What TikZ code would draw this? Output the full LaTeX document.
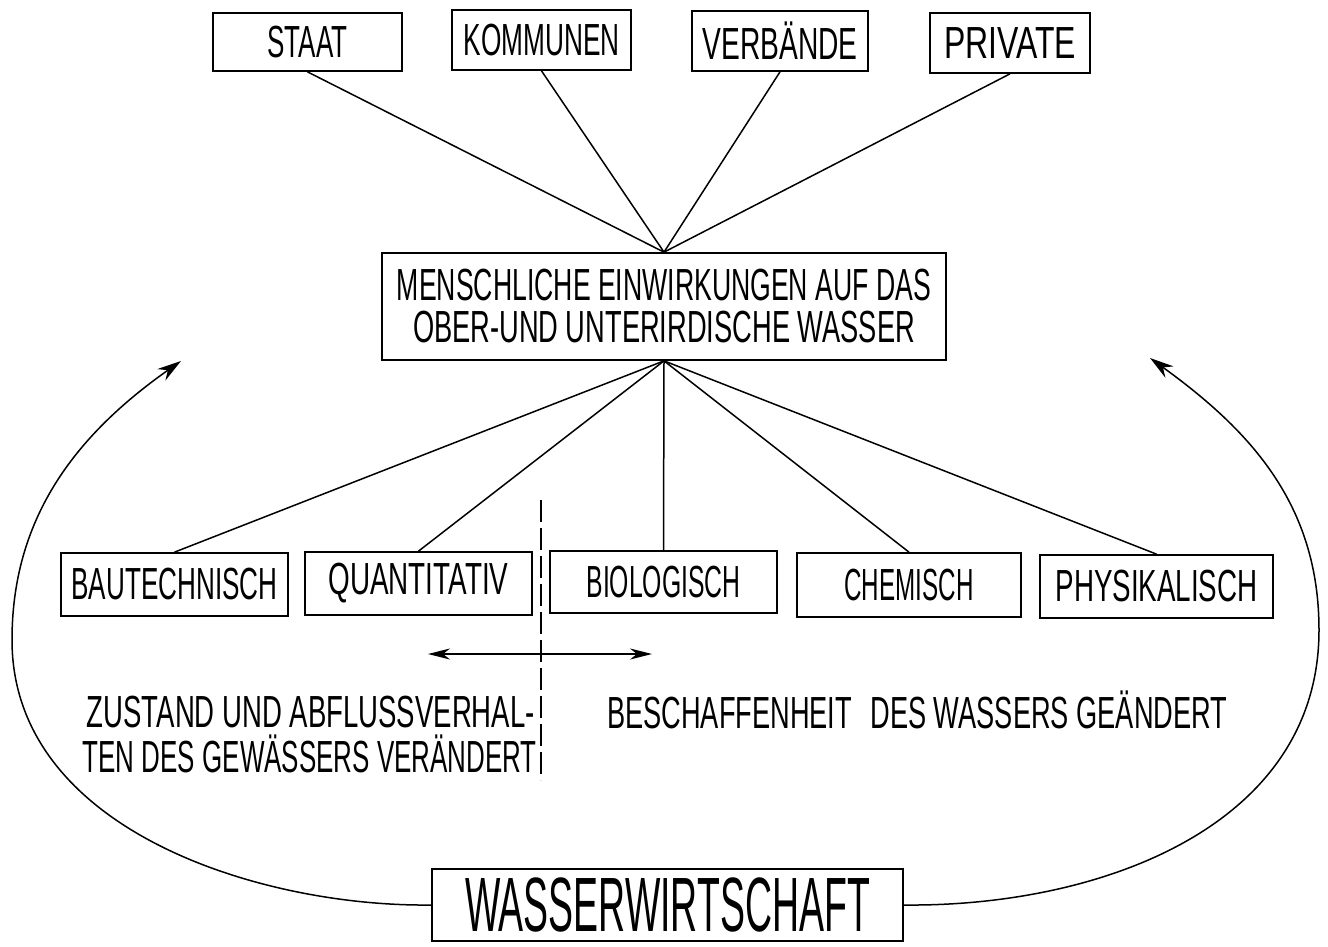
\documentclass[tikz,border=0pt]{standalone}
\usepackage{fontspec}
\setmainfont{Liberation Sans}
\usepackage{graphicx}
\usetikzlibrary{arrows.meta}
\newcommand{\tx}[3]{\resizebox{#1pt}{\height}{\fontsize{#2}{#2}\selectfont #3}}
\begin{document}
\begin{tikzpicture}[x=1pt,y=-1pt,
  box/.style={draw,line width=1.7pt,inner sep=0pt,align=center},
  conn/.style={line width=1.5pt},
  lbl/.style={inner sep=0pt},
  bigtip/.style={-{Stealth[length=24pt,width=14pt,inset=8pt]}},
  dbltip/.style={{Stealth[length=22pt,width=11pt,inset=7pt]}-{Stealth[length=22pt,width=11pt,inset=7pt]}}]
\useasboundingbox (0,0) rectangle (1328,947);
% top row
\node[box,minimum width=189pt,minimum height=58pt] (staat) at (307.5,42) {\tx{80}{45}{STAAT}};
\node[box,minimum width=179pt,minimum height=60pt] (komm) at (541.5,40) {\tx{156}{45}{KOMMUNEN}};
\node[box,minimum width=176pt,minimum height=60pt] (verb) at (780,41) {\tx{155}{45}{VERBÄNDE}};
\node[box,minimum width=160pt,minimum height=60pt] (priv) at (1010,43) {\tx{132}{45}{PRIVATE}};
% middle
\node[box,minimum width=564pt,minimum height=107pt,font=\fontsize{45}{42}\selectfont] (mensch) at (664,306.5)
  {\tx{534}{45}{MENSCHLICHE EINWIRKUNGEN AUF DAS}\\\tx{502}{45}{OBER-UND UNTERIRDISCHE WASSER}};
% lower row
\node[box,minimum width=227pt,minimum height=63pt] (bau) at (174.5,584.5) {\tx{206}{45}{BAUTECHNISCH}};
\node[box,minimum width=227pt,minimum height=63pt] (quant) at (418.5,583.5) {\tx{180}{45}{QUANTITATIV}};
\node[box,minimum width=227pt,minimum height=62pt] (bio) at (663.5,582) {\tx{154}{45}{BIOLOGISCH}};
\node[box,minimum width=224pt,minimum height=64pt] (chem) at (909,585) {\tx{129}{45}{CHEMISCH}};
\node[box,minimum width=233pt,minimum height=63pt] (phys) at (1156.5,586.5) {\tx{202}{45}{PHYSIKALISCH}};
% bottom
\node[box,minimum width=471pt,minimum height=72pt] (wasser) at (667.5,905) {\tx{405}{77}{WASSERWIRTSCHAFT}};
% connectors
\foreach \n in {staat,komm,verb,priv} \draw[conn] (\n.south) -- (mensch.north);
\foreach \n in {bau,quant,bio,chem,phys} \draw[conn] (mensch.south) -- (\n.north);
% dashed separator and double arrow
\coordinate (dtop) at (541,500);
\coordinate (dbot) at (541,780);
\draw[conn,dash pattern=on 22pt off 6pt] (dtop) -- (dbot);
\coordinate (al) at (428,654);
\coordinate (ar) at (652,654);
\draw[conn,dbltip] (al) -- (ar);
% texts
\node[lbl,anchor=base east] (z1) at (535,727) {\tx{448}{45}{ZUSTAND UND ABFLUSSVERHAL-}};
\node[lbl,anchor=base east] (z2) at (537,772) {\tx{454}{45}{TEN DES GEWÄSSERS VERÄNDERT}};
\node[lbl,anchor=base west] (besch) at (607,728) {\tx{620}{45}{BESCHAFFENHEIT\hspace{0.4em} DES WASSERS GEÄNDERT}};
% feedback arcs
\coordinate (cl) at (12,640);
\coordinate (tl) at (181,361);
\coordinate (cr) at (1319,630);
\coordinate (tr) at (1150,358);
\draw[conn,bigtip] (wasser.west) .. controls (260,907) and (12,830) .. (cl)
   .. controls (12,520) and (73,437) .. (tl);
\draw[conn,bigtip] (wasser.east) .. controls (1099,907) and (1319,827) .. (cr)
   .. controls (1319,505) and (1251,431) .. (tr);
\end{tikzpicture}
\end{document}
